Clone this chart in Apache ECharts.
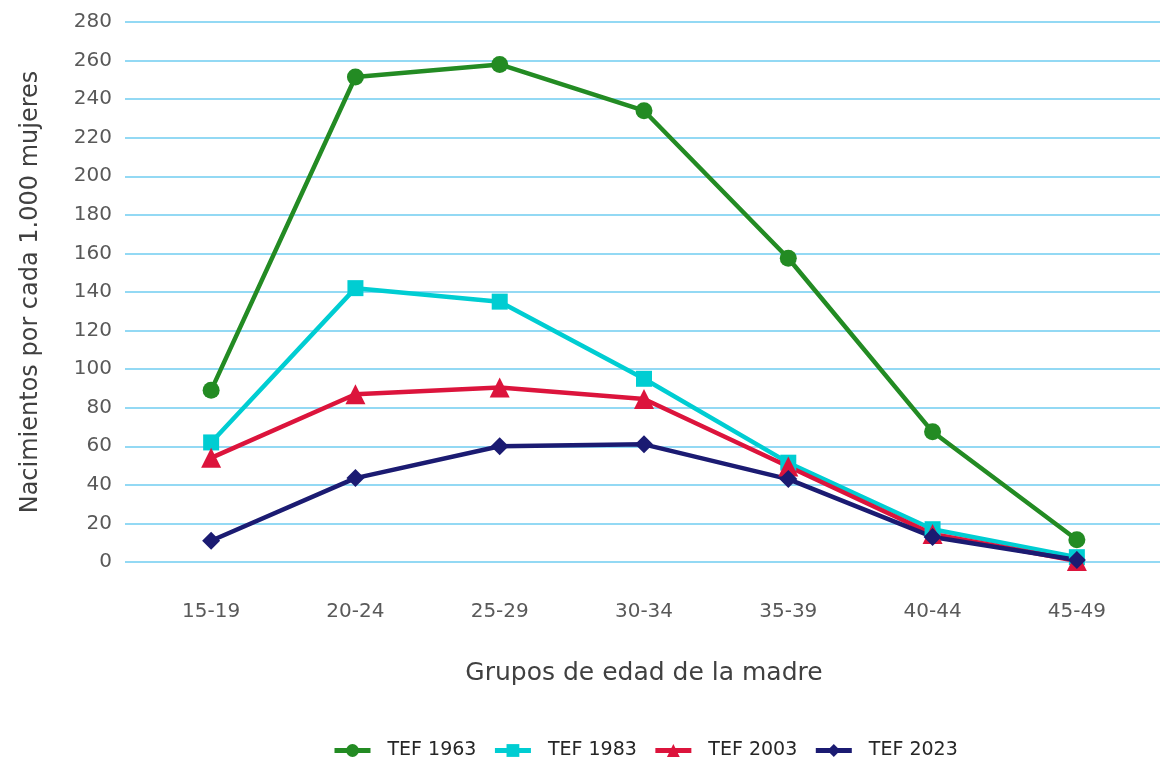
<!DOCTYPE html>
<html><head><meta charset="utf-8">
<script src="https://cdn.jsdelivr.net/npm/echarts@6/dist/echarts.min.js"></script>
<style>html,body{margin:0;padding:0;background:#fff}#c{width:1162px;height:760px}</style>
</head><body><div id="c"></div>
<script>
const categories = ['15-19','20-24','25-29','30-34','35-39','40-44','45-49'];
const tef1963 = [89, 251.5, 258, 234, 157.5, 67.5, 11.5];
const tef1983 = [62, 142, 135, 95, 51.5, 17, 2.5];
const tef2003 = [54, 87, 90.5, 84.5, 49.5, 14.5, 0.5];
const tef2023 = [11, 43.5, 60, 61, 43, 13, 1];
const seriesNames = ['TEF 1963','TEF 1983','TEF 2003','TEF 2023'];
const yTicks = {min:0, max:280, interval:20};

const font = 'DejaVu Sans';
const chart = echarts.init(document.getElementById('c'), null, {renderer:'canvas'});
function mk(name, data, color, symbol, size){
  return {name, type:'line', data, xAxisIndex:1, yAxisIndex:1, color,
    symbol, symbolSize:size, showSymbol:true,
    lineStyle:{width:4.5, color}, itemStyle:{color}, emphasis:{disabled:true}, animation:false};
}
chart.setOption({
  animation:false,
  textStyle:{fontFamily:font},
  grid:[
    {left:125, right:2, top:22, bottom:198},
    {left:139, right:13, top:22, bottom:198}
  ],
  xAxis:[
    {type:'value', gridIndex:0, show:false, min:0, max:1},
    {type:'category', gridIndex:1, data:categories, boundaryGap:true,
     axisLine:{show:false}, axisTick:{show:false},
     axisLabel:{fontSize:20, color:'#595959', margin:40, fontFamily:font},
     name:'Grupos de edad de la madre', nameLocation:'middle', nameGap:99,
     nameTextStyle:{fontSize:25, color:'#404040', fontFamily:font}}
  ],
  yAxis:[
    {type:'value', gridIndex:0, min:yTicks.min, max:yTicks.max, interval:yTicks.interval,
     axisLine:{show:false}, axisTick:{show:false},
     axisLabel:{fontSize:20, color:'#595959', margin:13, fontFamily:font},
     splitLine:{lineStyle:{color:'#93d9f4', width:2}},
     name:'Nacimientos por cada 1.000 mujeres', nameLocation:'middle', nameGap:82, nameRotate:90,
     nameTextStyle:{fontSize:24, color:'#404040', fontFamily:font}},
    {type:'value', gridIndex:1, min:yTicks.min, max:yTicks.max, interval:yTicks.interval, show:false,
     splitLine:{show:false}}
  ],
  legend:{
    top:736, left:327, itemWidth:36, itemHeight:16, itemGap:16,
    data:seriesNames,
    lineStyle:{width:5},
    textStyle:{fontSize:19, color:'#262626', fontFamily:font, padding:[0,0,0,12]}
  },
  series:[
    mk(seriesNames[0], tef1963, '#238b23', 'circle', 17),
    mk(seriesNames[1], tef1983, '#00cdd2', 'rect', 16),
    mk(seriesNames[2], tef2003, '#dc143c', 'triangle', 20),
    mk(seriesNames[3], tef2023, '#1b1b72', 'diamond', 18)
  ]
});
</script></body></html>
